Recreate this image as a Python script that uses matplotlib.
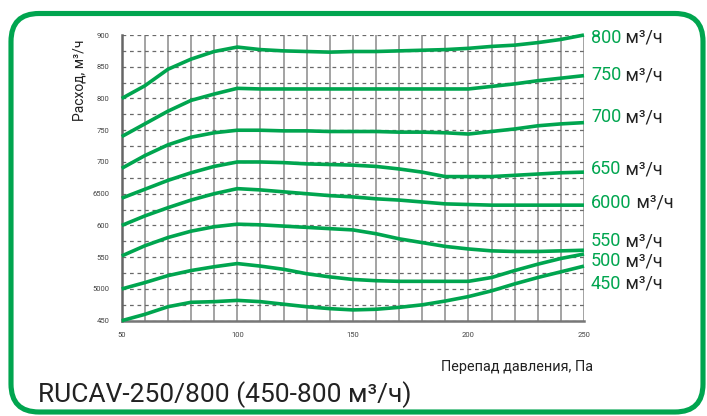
import matplotlib
matplotlib.use('Agg')
import matplotlib.pyplot as plt
from matplotlib.patches import FancyBboxPatch

plt.rcParams['font.family'] = ['Roboto', 'DejaVu Sans']

# pressure drop, Pa
dp = [50, 60, 70, 80, 90, 100, 110, 120, 130, 140, 150,
      160, 170, 180, 190, 200, 210, 220, 230, 240, 250]

# flow curves, m3/h
q800 = [800, 820, 846, 862, 874, 881, 877, 875, 874, 873, 874,
        874, 875, 876, 877, 879, 882, 884, 888, 893, 900]
q750 = [740, 760, 780, 797, 807, 816, 815, 815, 815, 815, 815,
        815, 815, 815, 815, 815, 819, 823, 828, 832, 836]
q700 = [690, 710, 727, 739, 746, 750, 750, 749, 749, 748, 748,
        748, 747, 747, 746, 744, 748, 752, 757, 760, 762]
q650 = [643, 657, 671, 683, 693, 700, 700, 699, 697, 696, 695,
        693, 689, 684, 677, 677, 677, 679, 681, 683, 684]
q600 = [600, 615, 628, 640, 650, 658, 656, 653, 650, 647, 645,
        642, 640, 637, 634, 633, 632, 632, 632, 632, 632]
q550 = [552, 568, 581, 591, 598, 602, 601, 599, 597, 595, 593,
        587, 579, 573, 567, 563, 560, 559, 559, 560, 561]
q500 = [500, 510, 521, 529, 535, 540, 536, 531, 524, 519, 515,
        513, 512, 512, 512, 512, 518, 529, 539, 548, 555]
q450 = [450, 460, 472, 479, 480, 482, 480, 476, 472, 469, 467,
        468, 471, 475, 481, 488, 497, 508, 518, 527, 536]

curves = [q800, q750, q700, q650, q600, q550, q500, q450]
curve_names = ['800', '750', '700', '650', '6000', '550', '500', '450']
label_y_px = [38, 75, 117, 169, 203, 241, 261, 284]   # label centres, px from top

yticks = [450, 500, 550, 600, 650, 700, 750, 800, 850, 900]
ytick_labels = ['450', '5000', '550', '600', '6500', '700', '750', '800', '850', '900']
xticks = [50, 100, 150, 200, 250]

green = '#00a54f'
dark = '#222222'
W, H = 707, 416

fig = plt.figure(figsize=(W / 100, H / 100), dpi=100)
ax = fig.add_axes([121.7 / W, 1 - 320.7 / H, (584 - 121.7) / W, (320.7 - 35) / H])

# grid
for xv in range(50, 251, 10):
    ax.axvline(xv, color='#8a8a8a', lw=1.1, zorder=1)
for yv in range(450, 901, 25):
    ax.axhline(yv, color='#6a6a6a', lw=0.9, ls=(0, (3, 3)), zorder=1)

for q in curves:
    ax.plot(dp, q, color=green, lw=2.6, zorder=3, clip_on=False,
            solid_joinstyle='round', solid_capstyle='butt')

ax.set_xlim(50, 250)
ax.set_ylim(450, 900)
ax.set_xticks(xticks)
ax.set_xticklabels([str(v) for v in xticks])
ax.set_yticks(yticks)
ax.set_yticklabels(ytick_labels)
ax.tick_params(length=0, labelsize=5.5, labelcolor='#444444')
ax.tick_params(axis='y', pad=9)
ax.tick_params(axis='x', pad=8)
for s in ['top', 'right']:
    ax.spines[s].set_visible(False)
ax.spines['left'].set_color('#666666')
ax.spines['left'].set_linewidth(1.8)
ax.spines['bottom'].set_color('#777777')
ax.spines['bottom'].set_linewidth(1.8)

# right-hand curve labels: green number + dark unit
for name, ypx in zip(curve_names, label_y_px):
    t = fig.text(591 / W, 1 - ypx / H, name, color=green, fontsize=13,
                 ha='left', va='center')
    ax.annotate(' м³/ч', xy=(1, 0), xycoords=t, color=dark, fontsize=13,
                ha='left', va='bottom', annotation_clip=False)

fig.text(79 / W, 1 - 80 / H, 'Расход, м³/ч', rotation=90, fontsize=10,
         color=dark, ha='center', va='center')
fig.text(517 / W, 1 - 367 / H, 'Перепад давления, Па', fontsize=10.4,
         color=dark, ha='center', va='center')
fig.text(38 / W, 1 - 402 / H, 'RUCAV-250/800 (450-800 м³/ч)', fontsize=19,
         color=dark, ha='left', va='baseline')

# rounded green frame
frame = FancyBboxPatch((11, H - 412), 692, 398.5,
                       boxstyle='round,pad=0,rounding_size=28',
                       fill=False, ec=green, lw=3.7, transform=None)
fig.patches.append(frame)

fig.savefig('out.png', dpi=100)
